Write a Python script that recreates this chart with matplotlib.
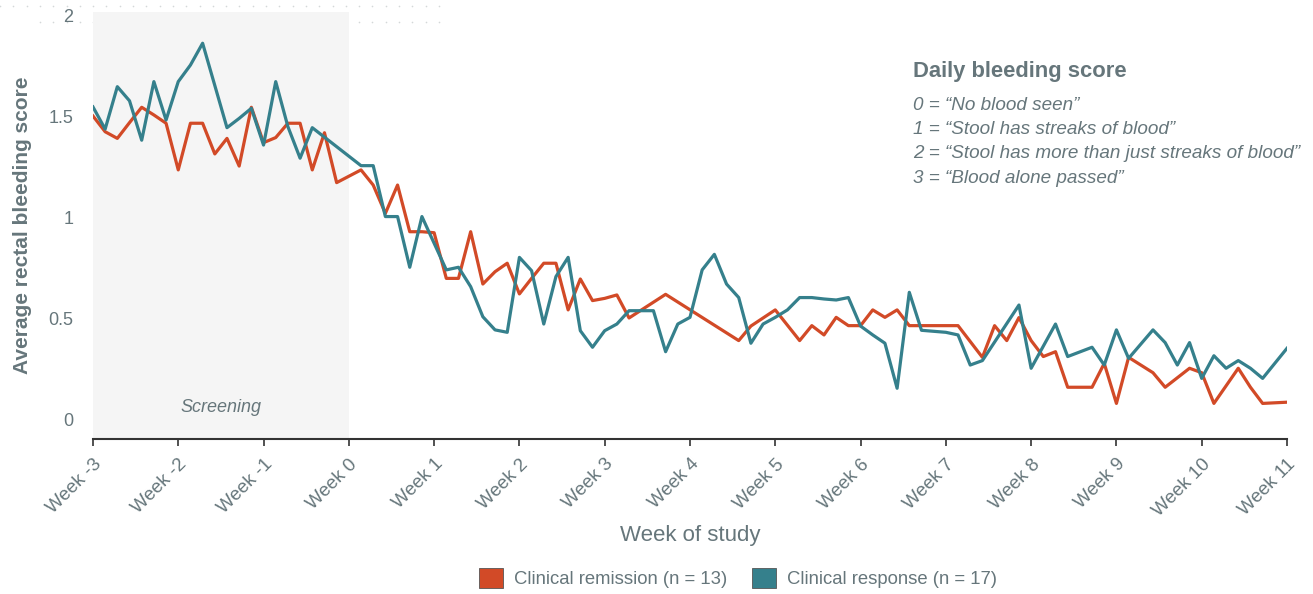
import matplotlib
matplotlib.use("Agg")
import matplotlib.pyplot as plt
from matplotlib.lines import Line2D
from matplotlib.patches import Patch
import numpy as np

plt.rcParams['font.family'] = ['Liberation Sans', 'DejaVu Sans']

# day of study (week 0 = day 0) and average score at each drawn point
days_remission = [-21, -20, -19, -18, -17, -16, -15, -14, -13, -12, -11, -10, -9, -8, -7, -6,
                  -5, -4, -3, -2, -1, 1, 2, 3, 4, 5, 6, 7, 8, 9, 10, 11, 12, 13, 14, 15, 16,
                  17, 18, 19, 20, 21, 22, 23, 26, 32, 33, 35, 37, 38, 39, 40, 41, 42, 43, 44,
                  45, 46, 50, 52, 53, 54, 55, 56, 57, 58, 59, 61, 62, 63, 64, 66, 67, 69, 70,
                  71, 73, 74, 75, 77]
score_remission = [1.505, 1.427, 1.394, 1.472, 1.548, 1.51, 1.469, 1.238, 1.469, 1.469, 1.317,
                   1.394, 1.257, 1.548, 1.373, 1.398, 1.469, 1.469, 1.238, 1.422, 1.175, 1.238,
                   1.163, 1.023, 1.163, 0.932, 0.932, 0.927, 0.701, 0.701, 0.932, 0.673, 0.734,
                   0.776, 0.624, 0.701, 0.776, 0.776, 0.545, 0.698, 0.591, 0.602, 0.619, 0.505,
                   0.622, 0.393, 0.465, 0.545, 0.393, 0.467, 0.421, 0.508, 0.467, 0.467, 0.545,
                   0.508, 0.545, 0.467, 0.467, 0.31, 0.467, 0.393, 0.507, 0.393, 0.314, 0.338,
                   0.162, 0.162, 0.28, 0.082, 0.31, 0.234, 0.162, 0.256, 0.234, 0.082, 0.256,
                   0.162, 0.082, 0.088]

days_response = [-21, -20, -19, -18, -17, -16, -15, -14, -13, -12, -10, -9, -8, -7, -6, -5,
                 -4, -3, 1, 2, 3, 4, 5, 6, 8, 9, 10, 11, 12, 13, 14, 15, 16, 17, 18, 19, 20,
                 21, 22, 23, 25, 26, 27, 28, 29, 30, 31, 32, 33, 34, 35, 36, 37, 38, 39, 40,
                 41, 42, 43, 44, 45, 46, 47, 49, 50, 51, 52, 55, 56, 58, 59, 61, 62, 63, 64,
                 66, 67, 68, 69, 70, 71, 72, 73, 74, 75, 77]
score_response = [1.55, 1.44, 1.65, 1.58, 1.385, 1.675, 1.485, 1.675, 1.757, 1.865, 1.447,
                  1.493, 1.543, 1.361, 1.675, 1.452, 1.296, 1.447, 1.259, 1.259, 1.007, 1.007,
                  0.756, 1.007, 0.743, 0.756, 0.66, 0.511, 0.446, 0.434, 0.805, 0.739, 0.475,
                  0.71, 0.805, 0.442, 0.36, 0.442, 0.475, 0.541, 0.541, 0.338, 0.475, 0.508,
                  0.743, 0.82, 0.673, 0.606, 0.38, 0.475, 0.508, 0.545, 0.606, 0.606, 0.599,
                  0.594, 0.606, 0.465, 0.421, 0.38, 0.157, 0.632, 0.444, 0.434, 0.421, 0.272,
                  0.294, 0.569, 0.256, 0.475, 0.314, 0.36, 0.272, 0.446, 0.305, 0.446, 0.383,
                  0.272, 0.383, 0.206, 0.318, 0.256, 0.294, 0.256, 0.206, 0.355]

week_ticks = list(range(-3, 12))
week_labels = ["Week %d" % w for w in week_ticks]
y_ticks = [0, 0.5, 1, 1.5, 2]
y_labels = ["0", "0.5", "1", "1.5", "2"]
score_key = ['0 = \u201cNo blood seen\u201d',
             '1 = \u201cStool has streaks of blood\u201d',
             '2 = \u201cStool has more than just streaks of blood\u201d',
             '3 = \u201cBlood alone passed\u201d']

red = '#d24a27'
teal = '#35808c'
txt = '#66767b'

fig = plt.figure(figsize=(13.13, 5.94), dpi=100)
ax = fig.add_axes([0.0708, 0.261, 0.9094, 0.7189])
ax.set_facecolor('none')

# faint dotted rules at the top left (slide leftovers)
for yy, x0 in [(1 - 6 / 594, 0), (1 - 22 / 594, 40)]:
    xs = np.arange(x0, 441, 13.3) / 1313
    fig.add_artist(Line2D(xs, [yy] * len(xs), transform=fig.transFigure, ls='none',
                          marker='o', ms=1.2, mew=0, color='#d4d8d9', zorder=-1))

ax.axvspan(-21, 0, color='#f5f5f5', lw=0, zorder=0)
ax.text(-10.5, 0.06, 'Screening', ha='center', va='center', style='italic',
        fontsize=13, color=txt)

ax.plot(days_remission, score_remission, color=red, lw=2.3, zorder=3)
ax.plot(days_response, score_response, color=teal, lw=2.3, zorder=3)

ax.set_xlim(-21, 77)
ax.set_ylim(-0.094, 2.02)
ax.set_xticks([w * 7 for w in week_ticks])
ax.set_xticklabels(week_labels, rotation=45, ha='right', rotation_mode='anchor',
                   fontsize=13.5, color=txt)
ax.set_yticks(y_ticks)
ax.set_yticklabels(y_labels, fontsize=13, color=txt)
ax.tick_params(axis='y', length=0, pad=14)
ax.tick_params(axis='x', length=5, width=1.2, color='#333333', pad=7)
for s in ['top', 'right', 'left']:
    ax.spines[s].set_visible(False)
ax.spines['bottom'].set_color('#333333')
ax.spines['bottom'].set_linewidth(1.5)

ax.set_ylabel('Average rectal bleeding score', fontsize=15, fontweight='bold',
              color=txt, labelpad=12)
ax.set_xlabel('Week of study', fontsize=16, color=txt, labelpad=4)

fig.text(913 / 1313, 1 - 71 / 594, 'Daily bleeding score', fontsize=15.8, fontweight='bold',
         color=txt, va='center', ha='left')
for i, line in enumerate(score_key):
    fig.text(913 / 1313, 1 - (105 + i * 24.5) / 594, line, fontsize=13.6, style='italic',
             color=txt, va='center', ha='left')

handles = [Patch(facecolor=red, edgecolor='#555555', lw=0.6),
           Patch(facecolor=teal, edgecolor='#555555', lw=0.6)]
fig.legend(handles, ['Clinical remission (n = 13)', 'Clinical response (n = 17)'],
           loc='center', bbox_to_anchor=(738 / 1313, 1 - 578 / 594), ncol=2, frameon=False,
           fontsize=13.3, labelcolor=txt, handlelength=1.3, handleheight=1.3,
           handletextpad=0.6, columnspacing=1.3)

fig.savefig('out.png', dpi=100)
